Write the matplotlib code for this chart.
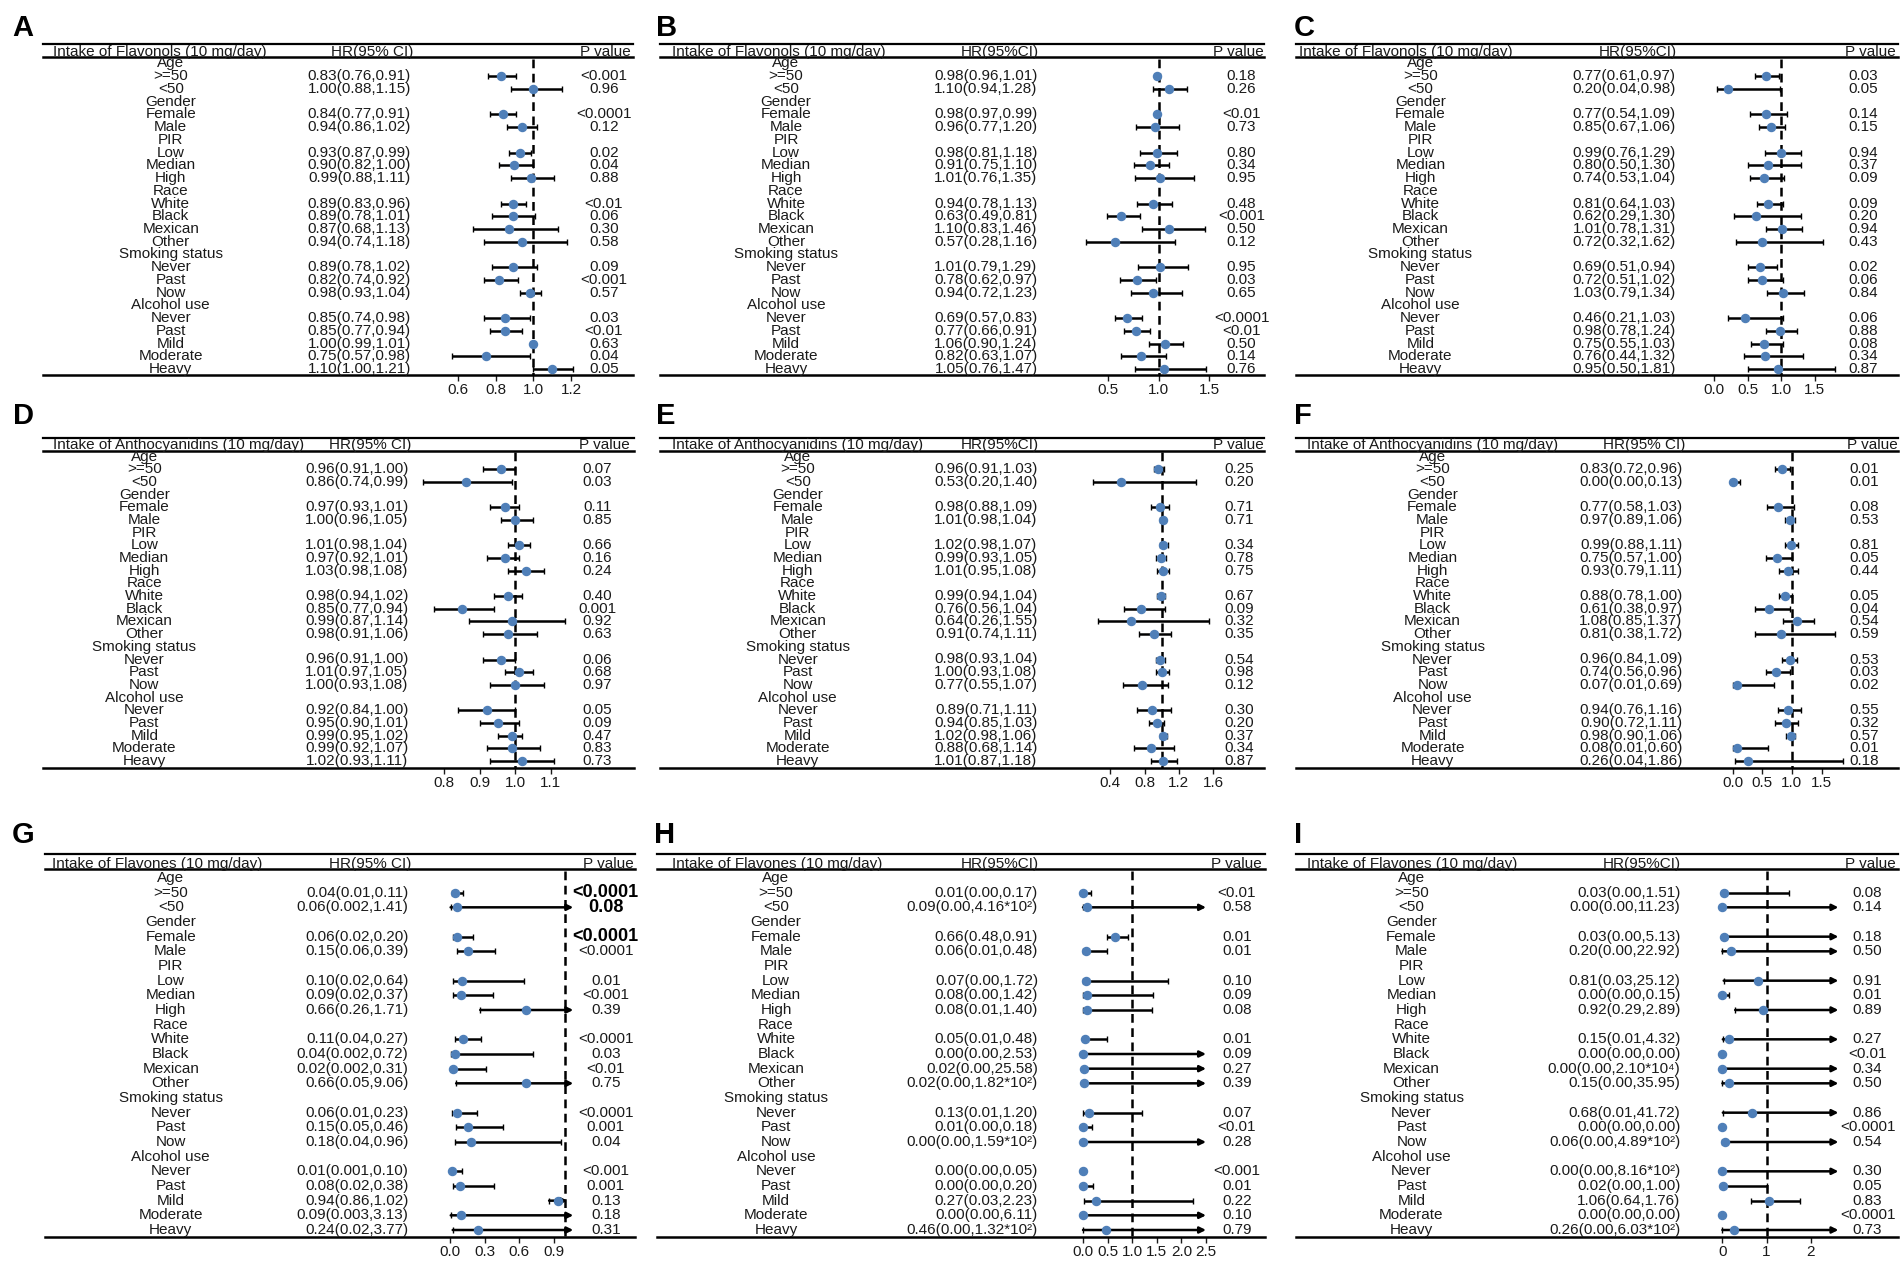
import math
import matplotlib
matplotlib.use("Agg")
import matplotlib.pyplot as plt
from matplotlib import transforms

plt.rcParams['font.family'] = ['Liberation Sans', 'DejaVu Sans']

W, H = 1904, 1267

# rows of every forest table
subgroups = ["Age", ">=50", "<50", "Gender", "Female", "Male", "PIR", "Low", "Median", "High",
             "Race", "White", "Black", "Mexican", "Other", "Smoking status", "Never", "Past", "Now",
             "Alcohol use", "Never", "Past", "Mild", "Moderate", "Heavy"]
header_rows = [0, 3, 6, 10, 15, 19]

# A - flavonols
a_hr = [0.83, 1.00, 0.84, 0.94, 0.93, 0.90, 0.99, 0.89, 0.89, 0.87, 0.94, 0.89, 0.82, 0.98, 0.85, 0.85, 1.00, 0.75, 1.10]
a_lo = [0.76, 0.88, 0.77, 0.86, 0.87, 0.82, 0.88, 0.83, 0.78, 0.68, 0.74, 0.78, 0.74, 0.93, 0.74, 0.77, 0.99, 0.57, 1.00]
a_hi = [0.91, 1.15, 0.91, 1.02, 0.99, 1.00, 1.11, 0.96, 1.01, 1.13, 1.18, 1.02, 0.92, 1.04, 0.98, 0.94, 1.01, 0.98, 1.21]
a_p = ["<0.001", "0.96", "<0.0001", "0.12", "0.02", "0.04", "0.88", "<0.01", "0.06", "0.30", "0.58",
       "0.09", "<0.001", "0.57", "0.03", "<0.01", "0.63", "0.04", "0.05"]

# B - flavonols
b_hr = [0.98, 1.10, 0.98, 0.96, 0.98, 0.91, 1.01, 0.94, 0.63, 1.10, 0.57, 1.01, 0.78, 0.94, 0.69, 0.77, 1.06, 0.82, 1.05]
b_lo = [0.96, 0.94, 0.97, 0.77, 0.81, 0.75, 0.76, 0.78, 0.49, 0.83, 0.28, 0.79, 0.62, 0.72, 0.57, 0.66, 0.90, 0.63, 0.76]
b_hi = [1.01, 1.28, 0.99, 1.20, 1.18, 1.10, 1.35, 1.13, 0.81, 1.46, 1.16, 1.29, 0.97, 1.23, 0.83, 0.91, 1.24, 1.07, 1.47]
b_p = ["0.18", "0.26", "<0.01", "0.73", "0.80", "0.34", "0.95", "0.48", "<0.001", "0.50", "0.12",
       "0.95", "0.03", "0.65", "<0.0001", "<0.01", "0.50", "0.14", "0.76"]

# C - flavonols
c_hr = [0.77, 0.20, 0.77, 0.85, 0.99, 0.80, 0.74, 0.81, 0.62, 1.01, 0.72, 0.69, 0.72, 1.03, 0.46, 0.98, 0.75, 0.76, 0.95]
c_lo = [0.61, 0.04, 0.54, 0.67, 0.76, 0.50, 0.53, 0.64, 0.29, 0.78, 0.32, 0.51, 0.51, 0.79, 0.21, 0.78, 0.55, 0.44, 0.50]
c_hi = [0.97, 0.98, 1.09, 1.06, 1.29, 1.30, 1.04, 1.03, 1.30, 1.31, 1.62, 0.94, 1.02, 1.34, 1.03, 1.24, 1.03, 1.32, 1.81]
c_p = ["0.03", "0.05", "0.14", "0.15", "0.94", "0.37", "0.09", "0.09", "0.20", "0.94", "0.43",
       "0.02", "0.06", "0.84", "0.06", "0.88", "0.08", "0.34", "0.87"]

# D - anthocyanidins
d_hr = [0.96, 0.86, 0.97, 1.00, 1.01, 0.97, 1.03, 0.98, 0.85, 0.99, 0.98, 0.96, 1.01, 1.00, 0.92, 0.95, 0.99, 0.99, 1.02]
d_lo = [0.91, 0.74, 0.93, 0.96, 0.98, 0.92, 0.98, 0.94, 0.77, 0.87, 0.91, 0.91, 0.97, 0.93, 0.84, 0.90, 0.95, 0.92, 0.93]
d_hi = [1.00, 0.99, 1.01, 1.05, 1.04, 1.01, 1.08, 1.02, 0.94, 1.14, 1.06, 1.00, 1.05, 1.08, 1.00, 1.01, 1.02, 1.07, 1.11]
d_p = ["0.07", "0.03", "0.11", "0.85", "0.66", "0.16", "0.24", "0.40", "0.001", "0.92", "0.63",
       "0.06", "0.68", "0.97", "0.05", "0.09", "0.47", "0.83", "0.73"]

# E - anthocyanidins
e_hr = [0.96, 0.53, 0.98, 1.01, 1.02, 0.99, 1.01, 0.99, 0.76, 0.64, 0.91, 0.98, 1.00, 0.77, 0.89, 0.94, 1.02, 0.88, 1.01]
e_lo = [0.91, 0.20, 0.88, 0.98, 0.98, 0.93, 0.95, 0.94, 0.56, 0.26, 0.74, 0.93, 0.93, 0.55, 0.71, 0.85, 0.98, 0.68, 0.87]
e_hi = [1.03, 1.40, 1.09, 1.04, 1.07, 1.05, 1.08, 1.04, 1.04, 1.55, 1.11, 1.04, 1.08, 1.07, 1.11, 1.03, 1.06, 1.14, 1.18]
e_p = ["0.25", "0.20", "0.71", "0.71", "0.34", "0.78", "0.75", "0.67", "0.09", "0.32", "0.35",
       "0.54", "0.98", "0.12", "0.30", "0.20", "0.37", "0.34", "0.87"]

# F - anthocyanidins
f_hr = [0.83, 0.00, 0.77, 0.97, 0.99, 0.75, 0.93, 0.88, 0.61, 1.08, 0.81, 0.96, 0.74, 0.07, 0.94, 0.90, 0.98, 0.08, 0.26]
f_lo = [0.72, 0.00, 0.58, 0.89, 0.88, 0.57, 0.79, 0.78, 0.38, 0.85, 0.38, 0.84, 0.56, 0.01, 0.76, 0.72, 0.90, 0.01, 0.04]
f_hi = [0.96, 0.13, 1.03, 1.06, 1.11, 1.00, 1.11, 1.00, 0.97, 1.37, 1.72, 1.09, 0.96, 0.69, 1.16, 1.11, 1.06, 0.60, 1.86]
f_p = ["0.01", "0.01", "0.08", "0.53", "0.81", "0.05", "0.44", "0.05", "0.04", "0.54", "0.59",
       "0.53", "0.03", "0.02", "0.55", "0.32", "0.57", "0.01", "0.18"]

# G - flavones
g_hr = [0.04, 0.06, 0.06, 0.15, 0.10, 0.09, 0.66, 0.11, 0.04, 0.02, 0.66, 0.06, 0.15, 0.18, 0.01, 0.08, 0.94, 0.09, 0.24]
g_lo = [0.01, 0.002, 0.02, 0.06, 0.02, 0.02, 0.26, 0.04, 0.002, 0.002, 0.05, 0.01, 0.05, 0.04, 0.001, 0.02, 0.86, 0.003, 0.02]
g_hi = [0.11, 1.41, 0.20, 0.39, 0.64, 0.37, 1.71, 0.27, 0.72, 0.31, 9.06, 0.23, 0.46, 0.96, 0.10, 0.38, 1.02, 3.13, 3.77]
g_p = ["<0.0001", "0.08", "<0.0001", "<0.0001", "0.01", "<0.001", "0.39", "<0.0001", "0.03", "<0.01", "0.75",
       "<0.0001", "0.001", "0.04", "<0.001", "0.001", "0.13", "0.18", "0.31"]
g_bold = [0, 1, 2]

# H - flavones
h_hr = [0.01, 0.09, 0.66, 0.06, 0.07, 0.08, 0.08, 0.05, 0.00, 0.02, 0.02, 0.13, 0.01, 0.00, 0.00, 0.00, 0.27, 0.00, 0.46]
h_lo = [0.00, 0.00, 0.48, 0.01, 0.00, 0.00, 0.01, 0.01, 0.00, 0.00, 0.00, 0.01, 0.00, 0.00, 0.00, 0.00, 0.03, 0.00, 0.00]
h_hi = [0.17, 416, 0.91, 0.48, 1.72, 1.42, 1.40, 0.48, 2.53, 25.58, 182, 1.20, 0.18, 159, 0.05, 0.20, 2.23, 6.11, 132]
h_p = ["<0.01", "0.58", "0.01", "0.01", "0.10", "0.09", "0.08", "0.01", "0.09", "0.27", "0.39",
       "0.07", "<0.01", "0.28", "<0.001", "0.01", "0.22", "0.10", "0.79"]

# I - flavones
i_hr = [0.03, 0.00, 0.03, 0.20, 0.81, 0.00, 0.92, 0.15, 0.00, 0.00, 0.15, 0.68, 0.00, 0.06, 0.00, 0.02, 1.06, 0.00, 0.26]
i_lo = [0.00, 0.00, 0.00, 0.00, 0.03, 0.00, 0.29, 0.01, 0.00, 0.00, 0.00, 0.01, 0.00, 0.00, 0.00, 0.00, 0.64, 0.00, 0.00]
i_hi = [1.51, 11.23, 5.13, 22.92, 25.12, 0.15, 2.89, 4.32, 0.00, 21000, 35.95, 41.72, 0.00, 489, 816, 1.00, 1.76, 0.00, 603]
i_p = ["0.08", "0.14", "0.18", "0.50", "0.91", "0.01", "0.89", "0.27", "<0.01", "0.34", "0.50",
       "0.86", "<0.0001", "0.54", "0.30", "0.05", "0.83", "<0.0001", "0.73"]

SUP = {2: "\u00b2", 3: "\u00b3", 4: "\u2074"}


def fmt(v):
    if v >= 100:
        e = int(math.floor(math.log10(v)))
        return f"{v / 10 ** e:.2f}*10{SUP[e]}"
    if 0 < v < 0.01:
        return f"{v:.3f}"
    return f"{v:.2f}"


# vertical layout per panel row (pixels): top line, header line, first row, last row, bottom line
row_px = [(44, 57, 63.5, 369, 375), (437.5, 450.5, 456.5, 761, 768), (854, 869, 878, 1230, 1237)]

panels = [
    dict(tag="A", hr=a_hr, lo=a_lo, hi=a_hi, p=a_p, row=0, title="Intake of Flavonols (10 mg/day)", hrlab="HR(95% CI)",
         L=42.7, R=633, a=345, b=188.3, lab=170.7, hrr=411, hrh=372, tl=52.8, pc=603.7, pr=631,
         ticks=[0.6, 0.8, 1.0, 1.2], tlx=12, tly=28),
    dict(tag="B", hr=b_hr, lo=b_lo, hi=b_hi, p=b_p, row=0, title="Intake of Flavonols (10 mg/day)", hrlab="HR(95%CI)",
         L=660.3, R=1264, a=1058, b=100.7, lab=786, hrr=1037.6, hrh=999.8, tl=672.5, pc=1241.6, pr=1264,
         ticks=[0.5, 1.0, 1.5], tlx=656, tly=28),
    dict(tag="C", hr=c_hr, lo=c_lo, hi=c_hi, p=c_p, row=0, title="Intake of Flavonols (10 mg/day)", hrlab="HR(95%CI)",
         L=1296.4, R=1898, a=1714.3, b=66.9, lab=1420.4, hrr=1675.7, hrh=1637.9, tl=1299, pc=1863.5, pr=1896,
         ticks=[0.0, 0.5, 1.0, 1.5], tlx=1294, tly=28),
    dict(tag="D", hr=d_hr, lo=d_lo, hi=d_hi, p=d_p, row=1, title="Intake of Anthocyanidins (10 mg/day)", hrlab="HR(95% CI)",
         L=42.7, R=634, a=160.3, b=355, lab=144.3, hrr=408.5, hrh=370, tl=52.8, pc=597.6, pr=630,
         ticks=[0.8, 0.9, 1.0, 1.1], tlx=13, tly=416),
    dict(tag="E", hr=e_hr, lo=e_lo, hi=e_hi, p=e_p, row=1, title="Intake of Anthocyanidins (10 mg/day)", hrlab="HR(95%CI)",
         L=660.3, R=1264, a=1076, b=85.75, lab=797.7, hrr=1037.6, hrh=999.8, tl=672.5, pc=1239.6, pr=1264,
         ticks=[0.4, 0.8, 1.2, 1.6], tlx=656, tly=416),
    dict(tag="F", hr=f_hr, lo=f_lo, hi=f_hi, p=f_p, row=1, title="Intake of Anthocyanidins (10 mg/day)", hrlab="HR(95% CI)",
         L=1296.4, R=1898, a=1732.6, b=59.3, lab=1432.6, hrr=1682.6, hrh=1644, tl=1307.4, pc=1864.3, pr=1898,
         ticks=[0.0, 0.5, 1.0, 1.5], tlx=1294, tly=416),
    dict(tag="G", hr=g_hr, lo=g_lo, hi=g_hi, p=g_p, row=2, title="Intake of Flavones (10 mg/day)", hrlab="HR(95% CI)",
         L=44.7, R=635, a=450.4, b=114.8, lab=170.7, hrr=408.5, hrh=370, tl=52, pc=605.7, pr=634,
         ticks=[0.0, 0.3, 0.6, 0.9], tlx=12, tly=835, thresh=1.0, clip=1.07, bold=g_bold),
    dict(tag="H", hr=h_hr, lo=h_lo, hi=h_hi, p=h_p, row=2, title="Intake of Flavones (10 mg/day)", hrlab="HR(95%CI)",
         L=657, R=1265, a=1083, b=49.2, lab=776, hrr=1038, hrh=999.8, tl=672.5, pc=1236.7, pr=1262,
         ticks=[0.0, 0.5, 1.0, 1.5, 2.0, 2.5], tlx=654, tly=835, thresh=2.5, clip=2.5),
    dict(tag="I", hr=i_hr, lo=i_lo, hi=i_hi, p=i_p, row=2, title="Intake of Flavones (10 mg/day)", hrlab="HR(95%CI)",
         L=1296.4, R=1898, a=1722.4, b=44.1, lab=1411.5, hrr=1680.6, hrh=1642, tl=1306.6, pc=1867.6, pr=1896,
         ticks=[0, 1, 2], tlx=1294, tly=835, thresh=2.63, clip=2.63),
]

DOT = "#4F7FB8"
TXT = "#1a1a1a"
FS = 11

fig = plt.figure(figsize=(W / 100, H / 100), dpi=100)

for pn in panels:
    T, Hd, first, last, B = row_px[pn["row"]]
    L, R = pn["L"], pn["R"]
    ax = fig.add_axes([L / W, 1 - B / H, (R - L) / W, (B - T) / H])
    s = (last - first) / 24
    y_top = -(first - T) / s
    y_bot = 24 + (B - last) / s
    y_hdr = (Hd - first) / s
    ax.set_ylim(y_bot, y_top)
    ax.set_xlim((L - pn["a"]) / pn["b"], (R - pn["a"]) / pn["b"])

    def fx(px):
        return (px - L) / (R - L)

    tr = transforms.blended_transform_factory(ax.transAxes, ax.transData)

    for sp in ["top", "left", "right"]:
        ax.spines[sp].set_visible(False)
    ax.spines["bottom"].set_linewidth(1.8)
    ax.set_yticks([])
    ax.set_xticks(pn["ticks"])
    if pn["tag"] == "I":
        ax.set_xticklabels([str(t) for t in pn["ticks"]])
    else:
        ax.set_xticklabels([f"{t:.1f}" for t in pn["ticks"]])
    ax.tick_params(axis="x", length=4, width=1, labelsize=FS, pad=2, colors=TXT)
    ax.patch.set_visible(False)

    # header rules
    ax.plot([0, 1], [y_top, y_top], transform=tr, color="k", lw=1.6, clip_on=False)
    ax.plot([0, 1], [y_hdr, y_hdr], transform=tr, color="k", lw=1.8, clip_on=False)

    ax.text(fx(pn["tl"]), y_hdr - 0.1, pn["title"], transform=tr, ha="left", va="baseline", fontsize=FS, color=TXT)
    ax.text(fx(pn["hrh"]), y_hdr - 0.1, pn["hrlab"], transform=tr, ha="center", va="baseline", fontsize=FS, color=TXT)
    ax.text(fx(pn["pr"]), y_hdr - 0.1, "P value", transform=tr, ha="right", va="baseline", fontsize=FS, color=TXT)

    # reference line
    ax.plot([1.0, 1.0], [y_hdr + 0.15, y_bot], color="k", lw=1.8, ls=(0, (3.5, 2.2)), zorder=2)

    for i, lab in enumerate(subgroups):
        ax.text(fx(pn["lab"]), i, lab, transform=tr, ha="center", va="center", fontsize=FS, color=TXT)

    data_rows = [i for i in range(len(subgroups)) if i not in header_rows]
    bold = pn.get("bold", [])
    for k, i in enumerate(data_rows):
        hr, lo, hi = pn["hr"][k], pn["lo"][k], pn["hi"][k]
        ax.text(fx(pn["hrr"]), i, f"{fmt(hr)}({fmt(lo)},{fmt(hi)})", transform=tr,
                ha="right", va="center", fontsize=FS, color=TXT)
        if k in bold:
            ax.text(fx(pn["pc"]), i, pn["p"][k], transform=tr, ha="center", va="center",
                    fontsize=13, fontweight="bold", color="k")
        else:
            ax.text(fx(pn["pc"]), i, pn["p"][k], transform=tr, ha="center", va="center",
                    fontsize=FS, color=TXT)

        thresh = pn.get("thresh")
        if thresh is not None and hi > thresh:
            end = min(hi, pn["clip"])
            ax.annotate("", xy=(end, i), xytext=(lo, i),
                        arrowprops=dict(arrowstyle="-|>", lw=1.8, color="k", mutation_scale=9,
                                        shrinkA=0, shrinkB=0), zorder=3)
            ax.plot([lo], [i], marker="|", ms=4, mew=1, color="k", zorder=3)
        else:
            ax.plot([lo, hi], [i, i], color="k", lw=1.8, solid_capstyle="butt", zorder=3)
            ax.plot([lo, hi], [i, i], ls="none", marker="|", ms=4, mew=1, color="k", zorder=3)
        ax.plot([hr], [i], "o", ms=5.8, color=DOT, mec=DOT, zorder=5)

    fig.text(pn["tlx"] / W, 1 - pn["tly"] / H, pn["tag"], ha="left", va="center",
             fontsize=21, fontweight="bold", color="k")

fig.savefig("out.png", dpi=100)
